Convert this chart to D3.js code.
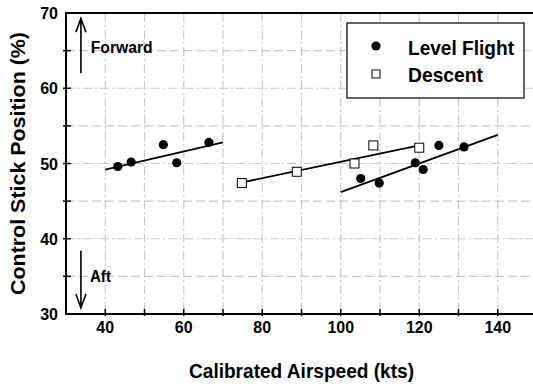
<!DOCTYPE html>
<html>
<head>
<meta charset="utf-8">
<script src="https://cdn.jsdelivr.net/npm/d3@7"></script>
<style>
  body { margin: 0; background: #fff; }
  text { font-family: "Liberation Sans", Arial, sans-serif; font-weight: bold; fill: #000; }
</style>
</head>
<body>
<script>
// level flight points (airspeed kts, stick %)
const levelX = [43.2, 46.6, 54.8, 58.2, 66.4, 105.1, 109.8, 119.0, 121.0, 125.0, 131.4];
const levelY = [49.6, 50.2, 52.5, 50.1, 52.8, 48.0, 47.4, 50.1, 49.2, 52.4, 52.2];
// descent points
const descentX = [74.8, 88.8, 103.5, 108.3, 120.0];
const descentY = [47.4, 48.9, 50.0, 52.4, 52.1];
// fitted lines, [x, y] endpoints
const fitLevelLow = [[40, 49.2], [70, 52.8]];
const fitDescent = [[75, 47.5], [120, 52.4]];
const fitLevelHigh = [[100, 46.2], [140, 53.8]];

const xTicks = [40, 60, 80, 100, 120, 140];
const yTicks = [30, 40, 50, 60, 70];

const W = 533, H = 388;
const svg = d3.select("body").append("svg")
  .attr("width", W).attr("height", H);

const x = d3.scaleLinear().domain([30, 150]).range([66, 537]);
const y = d3.scaleLinear().domain([30, 70]).range([314, 13]);

// text is narrow and tall in the original, squeeze to fit
function label(sel, size, len) {
  sel.style("font-size", size + "px");
  if (len) sel.attr("textLength", len).attr("lengthAdjust", "spacingAndGlyphs");
  return sel;
}

const grid = svg.append("g").style("stroke", "#c8c8c8").style("stroke-width", 1.2);

// vertical grid every 10 kts
grid.selectAll(".vg").data(d3.range(40, 150, 10)).join("line")
  .attr("x1", d => x(d)).attr("x2", d => x(d))
  .attr("y1", y(70)).attr("y2", y(30))
  .style("stroke-dasharray", "9,3,2,3");

// horizontal grid
grid.selectAll(".hg").data(d3.range(35, 70, 5)).join("line")
  .attr("x1", x(30)).attr("x2", x(150))
  .attr("y1", d => y(d)).attr("y2", d => y(d))
  .style("stroke-dasharray", d => d % 10 === 0 ? "9,3,2,3" : "9,4");

// ticks
svg.append("g").selectAll("line").data(d3.range(40, 150, 10)).join("line")
  .attr("x1", d => x(d)).attr("x2", d => x(d))
  .attr("y1", y(30) + 2).attr("y2", y(30) - 5)
  .style("stroke", "#000").style("stroke-width", 1.5);
svg.append("g").selectAll("line").data(d3.range(35, 70, 5)).join("line")
  .attr("x1", x(30) - 3).attr("x2", x(30) + 5)
  .attr("y1", d => y(d)).attr("y2", d => y(d))
  .style("stroke", "#000").style("stroke-width", 1.5);

// frame: left, top, bottom
svg.append("path")
  .attr("d", `M${x(150)},${y(70)}H${x(30)}V${y(30)}H${x(150)}`)
  .style("fill", "none").style("stroke", "#000").style("stroke-width", 2);

// tick labels
svg.append("g").selectAll("text").data(xTicks).join("text")
  .attr("x", d => x(d)).attr("y", 333)
  .attr("text-anchor", "middle").style("font-size", "16px")
  .text(d => d);
svg.append("g").selectAll("text").data(yTicks).join("text")
  .attr("x", 58).attr("y", d => y(d) + 6)
  .attr("text-anchor", "end").style("font-size", "16px")
  .text(d => d);

// axis titles
label(svg.append("text")
  .attr("x", (x(30) + x(150)) / 2).attr("y", 378)
  .attr("text-anchor", "middle"), 21, 225)
  .text("Calibrated Airspeed (kts)");
label(svg.append("text")
  .attr("transform", `translate(25,${(y(30) + y(70)) / 2}) rotate(-90)`)
  .attr("text-anchor", "middle"), 21, 263)
  .text("Control Stick Position (%)");

// fit lines
const line = d3.line().x(d => x(d[0])).y(d => y(d[1]));
svg.append("g").selectAll("path").data([fitLevelLow, fitDescent, fitLevelHigh]).join("path")
  .attr("d", line)
  .style("fill", "none").style("stroke", "#000").style("stroke-width", 1.8);

// points
svg.append("g").selectAll("circle").data(levelX).join("circle")
  .attr("cx", d => x(d)).attr("cy", (d, i) => y(levelY[i]))
  .attr("r", 4.6).style("fill", "#000");
svg.append("g").selectAll("rect").data(descentX).join("rect")
  .attr("x", d => x(d) - 4.5).attr("y", (d, i) => y(descentY[i]) - 4.5)
  .attr("width", 9).attr("height", 9)
  .style("fill", "#fff").style("stroke", "#000").style("stroke-width", 1);

// direction arrows
function arrow(xv, yFrom, yTo) {
  const xa = x(xv), y0 = y(yFrom), y1 = y(yTo);
  const dir = y1 < y0 ? 1 : -1;
  svg.append("path")
    .attr("d", `M${xa},${y0}V${y1}M${xa - 5},${y1 + dir * 14}L${xa},${y1}L${xa + 5},${y1 + dir * 14}`)
    .style("fill", "none").style("stroke", "#000").style("stroke-width", 1.6);
}
arrow(33.8, 62.0, 69.3);
arrow(33.8, 38.4, 30.8);
label(svg.append("text").attr("x", x(36.3)).attr("y", y(64.7)), 16, 62).text("Forward");
label(svg.append("text").attr("x", x(36.1)).attr("y", y(34.2)), 16, 21).text("Aft");

// legend
const lg = svg.append("g").attr("transform", "translate(347,23)");
lg.append("rect").attr("width", 177).attr("height", 75)
  .style("fill", "#fff").style("stroke", "#000").style("stroke-width", 1.2);
lg.append("circle").attr("cx", 29).attr("cy", 23).attr("r", 4.6).style("fill", "#000");
lg.append("rect").attr("x", 25).attr("y", 47).attr("width", 8).attr("height", 8)
  .style("fill", "#fff").style("stroke", "#000");
label(lg.append("text").attr("x", 61).attr("y", 32), 21, 106).text("Level Flight");
label(lg.append("text").attr("x", 61).attr("y", 59), 21, 75).text("Descent");
</script>
</body>
</html>
